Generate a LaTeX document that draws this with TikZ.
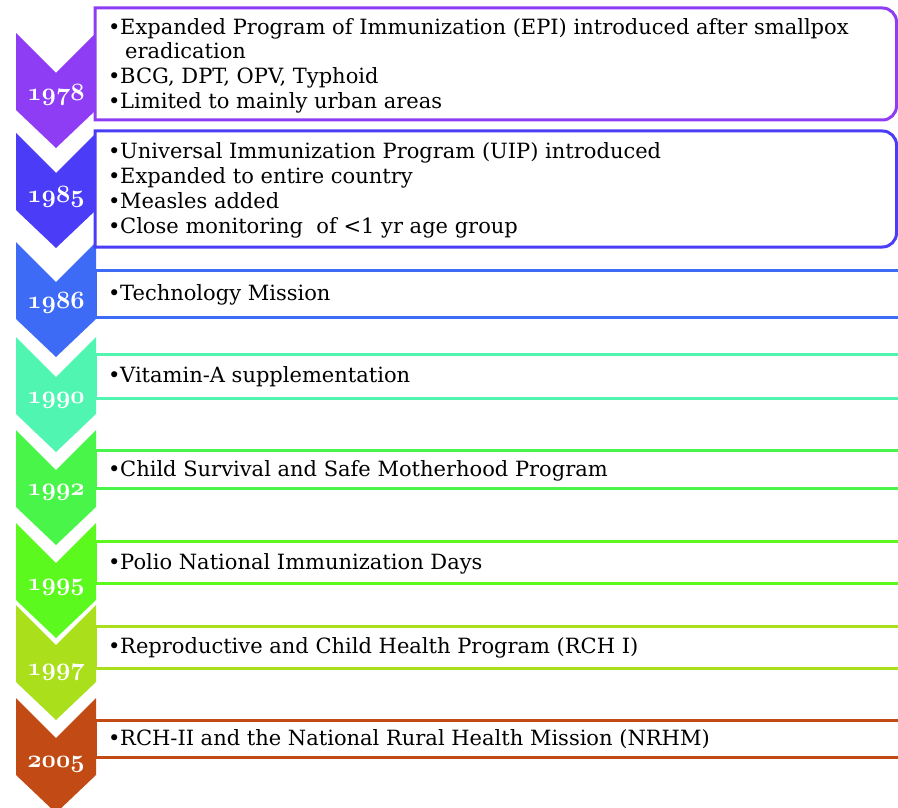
\documentclass[tikz,border=0pt]{standalone}
\usepackage{fontspec}
\setmainfont{DejaVu Serif}
\definecolor{c78}{HTML}{8F3DF5}
\definecolor{c85}{HTML}{4B3DF7}
\definecolor{c86}{HTML}{3D6BF5}
\definecolor{c90}{HTML}{4FF5B0}
\definecolor{c92}{HTML}{49F549}
\definecolor{c95}{HTML}{5CF91E}
\definecolor{c97}{HTML}{A9DF1B}
\definecolor{c05}{HTML}{C24A14}
\tikzset{
  yr/.style={text=white, inner sep=0pt, anchor=base,
    font=\fontsize{30}{30}\usefont{OML}{cmm}{b}{it}},
  item/.style={inner sep=0pt, anchor=base west, font=\fontsize{21}{24}\selectfont},
  panel/.style={line width=3pt, fill=white},
}
\newcommand\bul{\makebox[12pt][l]{\textbullet}}
\newcommand\chevron[2]{%
  \fill[#1] (16,#2) -- (56,#2+40) -- (96,#2) -- (96,#2+77) -- (56,#2+115) -- (16,#2+77) -- cycle;}
\begin{document}
\begin{tikzpicture}[x=1pt,y=-1pt]
  \useasboundingbox (0,0) rectangle (898,808);
  \clip (0,0) rectangle (898,808);

  \chevron{c78}{33}
  \chevron{c85}{133}
  \chevron{c86}{242}
  \chevron{c90}{337}
  \chevron{c92}{430}
  \chevron{c95}{523}
  \chevron{c97}{605}
  \chevron{c05}{698}

  \draw [panel, draw=c78] (95,8) [rounded corners=14pt] -- (896.5,8) -- (896.5,120) [sharp corners] -- (95,120) -- cycle;
  \draw [panel, draw=c85] (95,131) [rounded corners=14pt] -- (896.5,131) -- (896.5,247) [sharp corners] -- (95,247) -- cycle;
  \draw [panel, draw=c86] (95,270) rectangle (920,317);
  \draw [panel, draw=c90] (95,354) rectangle (920,398);
  \draw [panel, draw=c92] (95,450) rectangle (920,488);
  \draw [panel, draw=c95] (95,541) rectangle (920,583);
  \draw [panel, draw=c97] (95,626) rectangle (920,668);
  \draw [panel, draw=c05] (95,720) rectangle (920,757);

  \node [yr] (y78) at (56,100) {1978};
  \node [yr] (y85) at (56,202) {1985};
  \node [yr] (y86) at (56,308) {1986};
  \node [yr] (y90) at (56,403) {1990};
  \node [yr] (y92) at (56,495) {1992};
  \node [yr] (y95) at (56,590) {1995};
  \node [yr] (y97) at (56,675) {1997};
  \node [yr] (y05) at (56,767) {2005};

  \node [item] (t78a) at (108,35) {\bul Expanded Program of Immunization (EPI) introduced after smallpox};
  \node [item] (t78b) at (125,58.3) {eradication};
  \node [item] (t78c) at (108,83.3) {\bul BCG, DPT, OPV, Typhoid};
  \node [item] (t78d) at (108,108.3) {\bul Limited to mainly urban areas};

  \node [item] (t85a) at (108,158.3) {\bul Universal Immunization Program (UIP) introduced};
  \node [item] (t85b) at (108,183.3) {\bul Expanded to entire country};
  \node [item] (t85c) at (108,208.3) {\bul Measles added};
  \node [item] (t85d) at (108,233.3) {\bul Close monitoring\ \ of <1 yr age group};

  \node [item] (t86) at (108,300) {\bul Technology Mission};
  \node [item] (t90) at (108,382) {\bul Vitamin-A supplementation};
  \node [item] (t92) at (108,476) {\bul Child Survival and Safe Motherhood Program};
  \node [item] (t95) at (108,569) {\bul Polio National Immunization Days};
  \node [item] (t97) at (108,653) {\bul Reproductive and Child Health Program (RCH I)};
  \node [item] (t05) at (108,745) {\bul RCH-II and the National Rural Health Mission (NRHM)};
\end{tikzpicture}
\end{document}
